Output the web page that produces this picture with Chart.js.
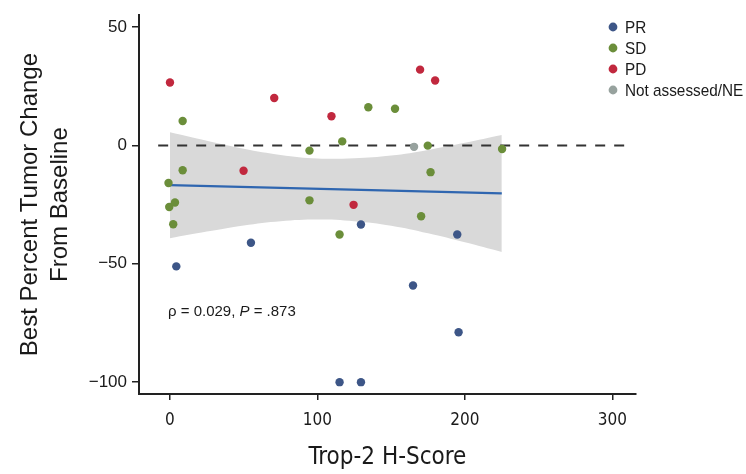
<!DOCTYPE html>
<html>
<head>
<meta charset="utf-8">
<script src="https://cdn.jsdelivr.net/npm/chart.js@4.4.1/dist/chart.umd.min.js"></script>
<style>
  html, body { margin: 0; padding: 0; background: #fff; }
</style>
</head>
<body>
<canvas id="chart" width="746" height="474"></canvas>
<script>
// values
const groups = ['PR', 'SD', 'PD', 'Not assessed/NE'];
const groupColors = ['#3d5687', '#6b8e3a', '#c1283e', '#97a29e'];

const prX = [4.3, 54.9, 115, 129.5, 129.5, 164.8, 194.8, 195.7];
const prY = [-51.1, -41.1, -100, -100, -33.4, -59.2, -37.6, -78.9];

const sdX = [8.6, 8.6, -1, -0.5, 3.4, 2.2, 94.6, 94.6, 116.8, 115, 134.5, 152.6, 170.3, 174.8, 176.7, 225.2];
const sdY = [10.3, -10.5, -15.9, -26, -24.1, -33.3, -2.2, -23.2, 1.7, -37.6, 16.1, 15.5, -29.9, -0.1, -11.3, -1.5];

const pdX = [0, 49.9, 70.7, 109.5, 124.5, 169.6, 179.8];
const pdY = [26.6, -10.7, 20, 12.3, -25.1, 32, 27.4];

const neX = [165.5];
const neY = [-0.6];

// fitted line and its confidence band
const fitX = [0, 225];
const fitY = [-16.8, -20.3];
const bandX = [0, 25, 50, 75, 100, 125, 150, 175, 200, 225];
const bandUpper = [5.6, 2.0, -1.4, -4.0, -5.5, -5.4, -4.3, -1.9, 1.1, 4.4];
const bandLower = [-39.2, -36.4, -33.8, -32.0, -31.3, -32.0, -33.9, -37.1, -40.9, -45.0];

// dashed reference at 0
const refX = [-8, 313];
const refY = [0, 0];

const xTicks = [0, 100, 200, 300];
const yTicks = [-100, -50, 0, 50];

const statsText = ['\u03c1 = 0.029, ', 'P', ' = .873'];

const NARROW = "'Liberation Sans Narrow', 'DejaVu Sans Condensed', 'Arial Narrow', sans-serif";
const SANS = "'Liberation Sans', Arial, sans-serif";

function pts(xs, ys) {
    return xs.map((x, i) => ({ x: x, y: ys[i] }));
}

const pointSets = [[prX, prY], [sdX, sdY], [pdX, pdY], [neX, neY]];

const datasets = [];
// band first so that fill '+1' points at the lower edge
datasets.push({
    label: 'upper',
    data: pts(bandX, bandUpper),
    showLine: true,
    fill: '+1',
    backgroundColor: '#d9d9d9',
    borderWidth: 0,
    pointRadius: 0,
    tension: 0.4,
    order: 5
});
datasets.push({
    label: 'lower',
    data: pts(bandX, bandLower),
    showLine: true,
    fill: false,
    borderWidth: 0,
    pointRadius: 0,
    tension: 0.4,
    order: 5
});
datasets.push({
    label: 'ref',
    data: pts(refX, refY),
    showLine: true,
    borderColor: '#333333',
    borderWidth: 2,
    borderDash: [10, 9],
    pointRadius: 0,
    order: 4
});
datasets.push({
    label: 'fit',
    data: pts(fitX, fitY),
    showLine: true,
    borderColor: '#2f66b0',
    borderWidth: 2.2,
    pointRadius: 0,
    order: 3
});
pointSets.forEach((s, i) => {
    datasets.push({
        label: groups[i],
        data: pts(s[0], s[1]),
        backgroundColor: groupColors[i],
        borderColor: groupColors[i],
        borderWidth: 0,
        pointRadius: 4.2,
        order: 1
    });
});

const legendPlugin = {
    id: 'sideLegend',
    afterDraw(chart) {
        const ctx = chart.ctx;
        ctx.save();
        ctx.font = '17px ' + SANS;
        ctx.textBaseline = 'middle';
        ctx.textAlign = 'left';
        groups.forEach((g, i) => {
            const y = 27 + i * 21;
            ctx.fillStyle = groupColors[i];
            ctx.beginPath();
            ctx.arc(613, y, 4.4, 0, Math.PI * 2);
            ctx.fill();
            ctx.fillStyle = '#1a1a1a';
            ctx.save();
            ctx.translate(625, y + 1);
            ctx.scale(0.9, 1);   // condensed look
            ctx.fillText(g, 0, 0);
            ctx.restore();
        });
        ctx.restore();
    }
};

const statsPlugin = {
    id: 'stats',
    afterDraw(chart) {
        const ctx = chart.ctx;
        ctx.save();
        ctx.fillStyle = '#1a1a1a';
        ctx.textBaseline = 'middle';
        let x = 168;
        const y = 312;
        statsText.forEach((t, i) => {
            ctx.font = (i === 1 ? 'italic ' : '') + '15px ' + SANS;
            ctx.fillText(t, x, y);
            x += ctx.measureText(t).width;
        });
        ctx.restore();
    }
};

new Chart(document.getElementById('chart'), {
    type: 'scatter',
    data: { datasets: datasets },
    options: {
        responsive: false,
        animation: false,
        devicePixelRatio: 1,
        events: [],
        layout: { padding: { top: 12, right: 110, left: 0, bottom: 0 } },
        plugins: {
            legend: { display: false },
            tooltip: { enabled: false }
        },
        scales: {
            x: {
                type: 'linear',
                min: -21,
                max: 316,
                afterBuildTicks: (axis) => { axis.ticks = xTicks.map(v => ({ value: v })); },
                afterFit: (axis) => { axis.height = 80; },
                border: { display: true, color: '#222', width: 2 },
                grid: { drawOnChartArea: false, drawTicks: true, tickLength: 6, color: '#222', lineWidth: 1.5 },
                ticks: {
                    color: '#1a1a1a',
                    padding: 10,
                    maxRotation: 0,
                    font: { family: NARROW, size: 17 }
                },
                title: {
                    display: true,
                    text: 'Trop-2 H-Score',
                    color: '#1a1a1a',
                    font: { family: NARROW, size: 24, lineHeight: 1 },
                    padding: { top: 0, bottom: 4 }
                }
            },
            y: {
                type: 'linear',
                min: -105,
                max: 55,
                afterBuildTicks: (axis) => { axis.ticks = yTicks.map(v => ({ value: v })); },
                afterFit: (axis) => { axis.width = 139; },
                border: { display: true, color: '#222', width: 2 },
                grid: { drawOnChartArea: false, drawTicks: true, tickLength: 7, color: '#222', lineWidth: 1.5 },
                ticks: {
                    color: '#1a1a1a',
                    padding: 5,
                    font: { family: SANS, size: 17 },
                    callback: (v) => String(v).replace('-', '\u2212')
                },
                title: {
                    display: true,
                    text: ['Best Percent Tumor Change', 'From Baseline'],
                    color: '#1a1a1a',
                    font: { family: SANS, size: 24, lineHeight: 1.25 },
                    padding: { top: 15, bottom: 0 }
                }
            }
        }
    },
    plugins: [legendPlugin, statsPlugin]
});
</script>
</body>
</html>
